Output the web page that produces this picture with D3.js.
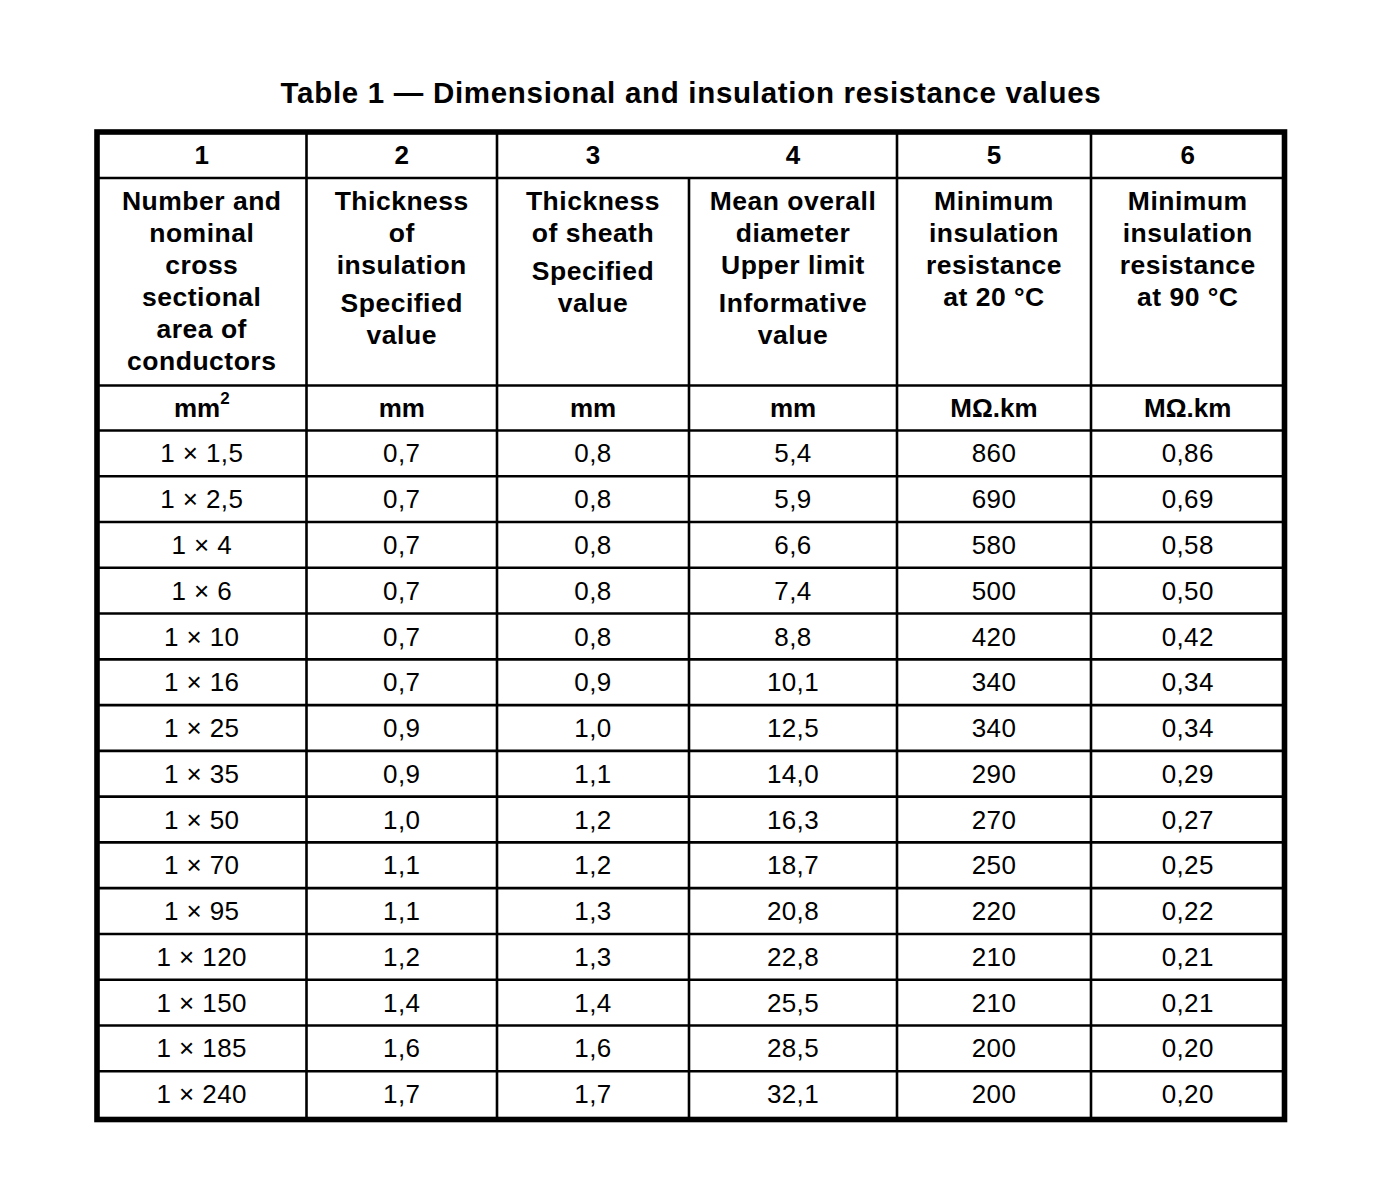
<!DOCTYPE html>
<html>
<head>
<meta charset="utf-8">
<script src="https://cdn.jsdelivr.net/npm/d3@7"></script>
<style>
  html, body { margin: 0; padding: 0; background: #fff; }
  svg { display: block; }
</style>
</head>
<body>
<div id="chart"></div>
<script>
// ---------- DATA ----------
const title = "Table 1 \u2014 Dimensional and insulation resistance values";
const columnNumbers = ["1", "2", "3", "4", "5", "6"];
// header paragraphs per column (each paragraph is a list of lines)
const columnHeaders = [
  [["Number and", "nominal", "cross", "sectional", "area of", "conductors"]],
  [["Thickness", "of", "insulation"], ["Specified", "value"]],
  [["Thickness", "of sheath"], ["Specified", "value"]],
  [["Mean overall", "diameter", "Upper limit"], ["Informative", "value"]],
  [["Minimum", "insulation", "resistance", "at 20 \u00b0C"]],
  [["Minimum", "insulation", "resistance", "at 90 \u00b0C"]]
];
const units = ["mm2", "mm", "mm", "mm", "M\u03a9.km", "M\u03a9.km"];
const conductors = ["1 \u00d7 1,5", "1 \u00d7 2,5", "1 \u00d7 4", "1 \u00d7 6", "1 \u00d7 10", "1 \u00d7 16", "1 \u00d7 25", "1 \u00d7 35", "1 \u00d7 50", "1 \u00d7 70", "1 \u00d7 95", "1 \u00d7 120", "1 \u00d7 150", "1 \u00d7 185", "1 \u00d7 240"];
const insulationThickness = ["0,7", "0,7", "0,7", "0,7", "0,7", "0,7", "0,9", "0,9", "1,0", "1,1", "1,1", "1,2", "1,4", "1,6", "1,7"];
const sheathThickness = ["0,8", "0,8", "0,8", "0,8", "0,8", "0,9", "1,0", "1,1", "1,2", "1,2", "1,3", "1,3", "1,4", "1,6", "1,7"];
const meanDiameter = ["5,4", "5,9", "6,6", "7,4", "8,8", "10,1", "12,5", "14,0", "16,3", "18,7", "20,8", "22,8", "25,5", "28,5", "32,1"];
const resistance20 = ["860", "690", "580", "500", "420", "340", "340", "290", "270", "250", "220", "210", "210", "200", "200"];
const resistance90 = ["0,86", "0,69", "0,58", "0,50", "0,42", "0,34", "0,34", "0,29", "0,27", "0,25", "0,22", "0,21", "0,21", "0,20", "0,20"];

const columns = [conductors, insulationThickness, sheathThickness, meanDiameter, resistance20, resistance90];

// ---------- LAYOUT ----------
const W = 1374, H = 1198;
const colEdges = [97, 306.5, 497, 689, 897, 1091, 1284.5];
const tableTop = 132, numRowBottom = 178, headRowBottom = 385.5, unitRowBottom = 430.5, tableBottom = 1119.5;
const font = "'Liberation Sans', Arial, sans-serif";

const svg = d3.select("#chart").append("svg").attr("width", W).attr("height", H);

const nRows = conductors.length;
const yRow = d3.scaleBand().domain(d3.range(nRows)).range([unitRowBottom, 1117]).padding(0);
const xMid = i => (colEdges[i] + colEdges[i + 1]) / 2;

// title
svg.append("text")
  .attr("x", 691).attr("y", 93)
  .attr("text-anchor", "middle").attr("dy", "0.35em")
  .attr("font-family", font).attr("font-weight", "bold").attr("font-size", 29.5)
  .attr("letter-spacing", 0.7)
  .attr("fill", "#000")
  .text(title);

// grid lines
const g = svg.append("g").attr("stroke", "#000").attr("stroke-width", 2.6);
const hLines = [numRowBottom, headRowBottom, unitRowBottom].concat(d3.range(1, nRows).map(i => yRow(i)));
g.selectAll("line.h").data(hLines).join("line")
  .attr("x1", colEdges[0]).attr("x2", colEdges[6])
  .attr("y1", d => d).attr("y2", d => d);
// vertical lines (line between col 3 and 4 skips the number row)
g.selectAll("line.v").data(d3.range(1, 6)).join("line")
  .attr("x1", i => colEdges[i]).attr("x2", i => colEdges[i])
  .attr("y1", i => i === 3 ? numRowBottom : tableTop)
  .attr("y2", tableBottom);
// outer border
svg.append("rect")
  .attr("x", colEdges[0]).attr("y", tableTop)
  .attr("width", colEdges[6] - colEdges[0]).attr("height", tableBottom - tableTop)
  .attr("fill", "none").attr("stroke", "#000").attr("stroke-width", 5.6);

// number row
svg.selectAll("text.num").data(columnNumbers).join("text")
  .attr("class", "num")
  .attr("x", (d, i) => xMid(i)).attr("y", 155).attr("dy", "0.35em")
  .attr("text-anchor", "middle")
  .attr("font-family", font).attr("font-weight", "bold").attr("font-size", 26)
  .attr("fill", "#000")
  .text(d => d);

// header text
columnHeaders.forEach((paras, ci) => {
  let y = 201;
  paras.forEach((lines, pi) => {
    if (pi > 0) y += 6;
    lines.forEach(line => {
      svg.append("text")
        .attr("x", xMid(ci)).attr("y", y).attr("dy", "0.35em")
        .attr("text-anchor", "middle")
        .attr("font-family", font).attr("font-weight", "bold").attr("font-size", 26.5)
        .attr("letter-spacing", 0.5)
        .attr("fill", "#000")
        .text(line);
      y += 32;
    });
  });
});

// units row
units.forEach((u, i) => {
  const t = svg.append("text")
    .attr("x", xMid(i)).attr("y", 408).attr("dy", "0.35em")
    .attr("text-anchor", "middle")
    .attr("font-family", font).attr("font-weight", "bold").attr("font-size", 26)
    .attr("fill", "#000");
  if (u === "mm2") {
    t.append("tspan").text("mm");
    t.append("tspan").attr("font-size", 17).attr("dy", -13).text("2");
  } else {
    t.text(u);
  }
});

// data cells
columns.forEach((col, ci) => {
  svg.selectAll("text.c" + ci).data(col).join("text")
    .attr("class", "c" + ci)
    .attr("x", xMid(ci))
    .attr("y", (d, ri) => yRow(ri) + yRow.bandwidth() / 2)
    .attr("dy", "0.35em")
    .attr("text-anchor", "middle")
    .attr("font-family", font).attr("font-size", 26)
    .attr("letter-spacing", 0.4)
    .attr("fill", "#000")
    .text(d => d);
});
</script>
</body>
</html>
